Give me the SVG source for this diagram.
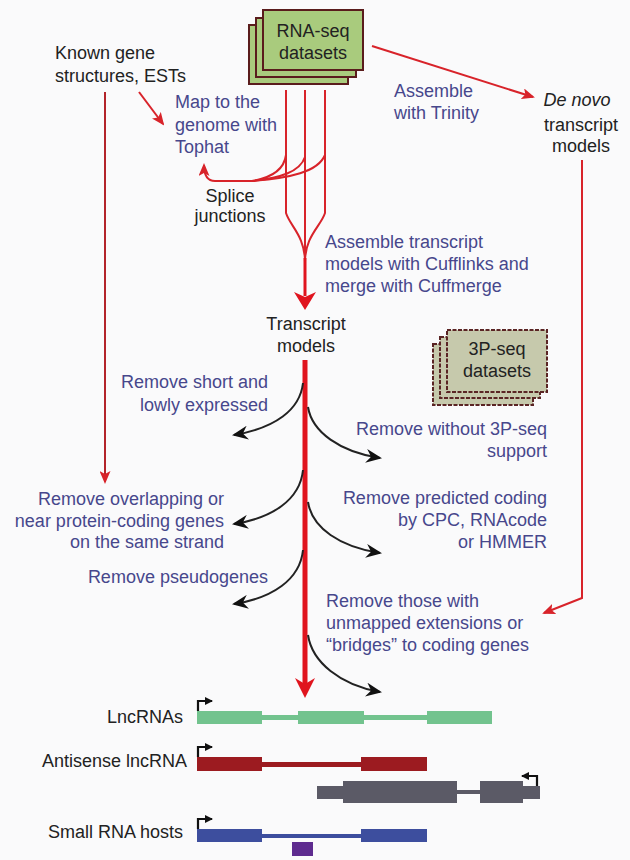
<svg xmlns="http://www.w3.org/2000/svg" width="630" height="860" viewBox="0 0 630 860">
<style>
.t{font-family:"Liberation Sans",Arial,sans-serif;font-size:18px;fill:#222}
.b{font-family:"Liberation Sans",Arial,sans-serif;font-size:18px;fill:#47478c}
.e{text-anchor:end}
.m{text-anchor:middle}
.rna{fill:#a9cb7d;stroke:#5a1c1c;stroke-width:2}
.p3{fill:#c6c9ac;stroke:#5a2424;stroke-width:2;stroke-dasharray:4 1.5}
.red{fill:none;stroke:#d8232a;stroke-width:2}
.dk{fill:none;stroke:#b3242a;stroke-width:2}
.blk{fill:none;stroke:#222;stroke-width:2}
.prom{fill:none;stroke:#111;stroke-width:2.2}
</style>
<defs>
<marker id="ar" viewBox="0 0 13 11" refX="11" refY="5.5" markerWidth="13" markerHeight="11" markerUnits="userSpaceOnUse" orient="auto">
<path d="M0,0 L13,5.5 L0,11 L3,5.5 z" fill="#d8232a"/>
</marker>
<marker id="ab" viewBox="0 0 16 14" refX="14" refY="7" markerWidth="16" markerHeight="14" markerUnits="userSpaceOnUse" orient="auto">
<path d="M0,0 L16,7 L0,14 L5,7 z" fill="#111"/>
</marker>
<marker id="ap" viewBox="0 0 8 8" refX="7" refY="4" markerWidth="8" markerHeight="8" markerUnits="userSpaceOnUse" orient="auto">
<path d="M0,0 L8,4 L0,8 z" fill="#111"/>
</marker>
</defs>
<rect width="630" height="860" fill="#fafafb"/>

<g id="connectors">
<path class="red" d="M372,46 L533,97" marker-end="url(#ar)"/>
<path class="red" d="M139,92 L163,124" marker-end="url(#ar)"/>
<path class="dk" d="M105,92 V482" marker-end="url(#ar)"/>
<path class="red" d="M582,160 V598 L544,613" marker-end="url(#ar)"/>
<path class="red" d="M286,90 V213 C290,226 305,236 305,262"/>
<path class="red" d="M325,90 V213 C321,226 305,236 305,262"/>
<path class="red" d="M305,90 V262"/>
<path class="red" d="M286,155 C284,170 270,178 252,181"/>
<path class="red" d="M305,157 C300,172 280,178 252,181"/>
<path class="red" d="M325,155 C318,172 290,178 252,181"/>
<path class="red" d="M252,181 L215,181 C207,181 204,175 204,165" marker-end="url(#ar)"/>
<path d="M305,258 V296" fill="none" stroke="#e0141e" stroke-width="3"/>
<path d="M294,292 L305,310 L316,292 L305,297 z" fill="#e0141e"/>
<path d="M305,360 V684" fill="none" stroke="#e0141e" stroke-width="5"/>
<path d="M295,678 L305,698 L315,678 L305,684 z" fill="#e0141e"/>
<path class="blk" d="M303,383 C300,410 275,428 234,435" marker-end="url(#ab)"/>
<path class="blk" d="M303,470 C300,500 272,518 234,524" marker-end="url(#ab)"/>
<path class="blk" d="M303,550 C300,580 272,598 234,604" marker-end="url(#ab)"/>
<path class="blk" d="M308,407 C312,432 340,452 380,458" marker-end="url(#ab)"/>
<path class="blk" d="M308,502 C312,528 340,547 380,553" marker-end="url(#ab)"/>
<path class="blk" d="M308,635 C312,662 340,685 380,692" marker-end="url(#ab)"/>
</g>

<g id="rnaseq">
<rect class="rna" x="249" y="25" width="99" height="59"/>
<rect class="rna" x="256" y="18" width="100" height="59"/>
<rect class="rna" x="263" y="10" width="100" height="60"/>
<text class="t m" x="313" y="37">RNA-seq</text>
<text class="t m" x="313" y="59">datasets</text>
</g>

<g id="known">
<text class="t" x="55" y="59">Known gene</text>
<text class="t" x="55" y="82">structures, ESTs</text>
</g>

<g id="map">
<text class="b" x="175" y="108">Map to the</text>
<text class="b" x="175" y="131">genome with</text>
<text class="b" x="175" y="153">Tophat</text>
</g>

<g id="trinity">
<text class="b" x="394" y="97">Assemble</text>
<text class="b" x="394" y="119">with Trinity</text>
</g>

<g id="denovo">
<text class="t m" x="577" y="106" font-style="italic">De novo</text>
<text class="t m" x="581" y="131">transcript</text>
<text class="t m" x="581" y="152">models</text>
</g>

<g id="splice">
<text class="t m" x="230" y="202">Splice</text>
<text class="t m" x="230" y="222">junctions</text>
</g>

<g id="cufflinks">
<text class="b" x="325" y="248">Assemble transcript</text>
<text class="b" x="325" y="270">models with Cufflinks and</text>
<text class="b" x="325" y="292">merge with Cuffmerge</text>
</g>

<g id="transcript">
<text class="t m" x="306" y="330">Transcript</text>
<text class="t m" x="306" y="352">models</text>
</g>

<g id="p3seq">
<rect class="p3" x="433" y="344" width="100" height="61"/>
<rect class="p3" x="440" y="337" width="100" height="61"/>
<rect class="p3" x="447" y="330" width="100" height="62"/>
<text class="t m" x="497" y="355">3P-seq</text>
<text class="t m" x="497" y="377">datasets</text>
</g>

<g id="filter-short">
<text class="b e" x="268" y="388">Remove short and</text>
<text class="b e" x="268" y="411">lowly expressed</text>
</g>
<g id="filter-3p">
<text class="b e" x="547" y="435">Remove without 3P-seq</text>
<text class="b e" x="547" y="457">support</text>
</g>
<g id="filter-overlap">
<text class="b e" x="224" y="505">Remove overlapping or</text>
<text class="b e" x="224" y="527">near protein-coding genes</text>
<text class="b e" x="224" y="548">on the same strand</text>
</g>
<g id="filter-coding">
<text class="b e" x="547" y="504">Remove predicted coding</text>
<text class="b e" x="547" y="526">by CPC, RNAcode</text>
<text class="b e" x="547" y="548">or HMMER</text>
</g>
<g id="filter-pseudo">
<text class="b e" x="268" y="583">Remove pseudogenes</text>
</g>
<g id="filter-bridges">
<text class="b" x="326" y="607">Remove those with</text>
<text class="b" x="326" y="629">unmapped extensions or</text>
<text class="b" x="326" y="651">“bridges” to coding genes</text>
</g>

<g id="lncrna">
<text class="t e" x="183" y="723">LncRNAs</text>
<rect x="197" y="715" width="295" height="5" fill="#72c38e"/>
<rect x="197" y="711" width="65" height="13" fill="#72c38e"/>
<rect x="298" y="711" width="66" height="13" fill="#72c38e"/>
<rect x="427" y="711" width="65" height="13" fill="#72c38e"/>
<path class="prom" d="M198,711 V701 H212" marker-end="url(#ap)"/>
</g>

<g id="antisense">
<text class="t e" x="187" y="767">Antisense lncRNA</text>
<rect x="197" y="762" width="230" height="5" fill="#9c1b20"/>
<rect x="197" y="757" width="65" height="14" fill="#9c1b20"/>
<rect x="361" y="757" width="66" height="14" fill="#9c1b20"/>
<path class="prom" d="M198,757 V747 H212" marker-end="url(#ap)"/>
</g>

<g id="coding-gene">
<rect x="317" y="786" width="140" height="13" fill="#5b5a66"/>
<rect x="457" y="790" width="23" height="4" fill="#5b5a66"/>
<rect x="523" y="786" width="17" height="13" fill="#5b5a66"/>
<rect x="343" y="781" width="114" height="22" fill="#5b5a66"/>
<rect x="480" y="781" width="43" height="22" fill="#5b5a66"/>
<path class="prom" d="M537,786 V776 H522" marker-end="url(#ap)"/>
</g>

<g id="smallrna">
<text class="t e" x="183" y="838">Small RNA hosts</text>
<rect x="197" y="834" width="230" height="4" fill="#3d4e9e"/>
<rect x="197" y="829" width="65" height="13" fill="#3d4e9e"/>
<rect x="361" y="829" width="66" height="13" fill="#3d4e9e"/>
<rect x="292" y="842" width="21" height="14" fill="#5e2b8f"/>
<path class="prom" d="M198,829 V819 H212" marker-end="url(#ap)"/>
</g>
</svg>
